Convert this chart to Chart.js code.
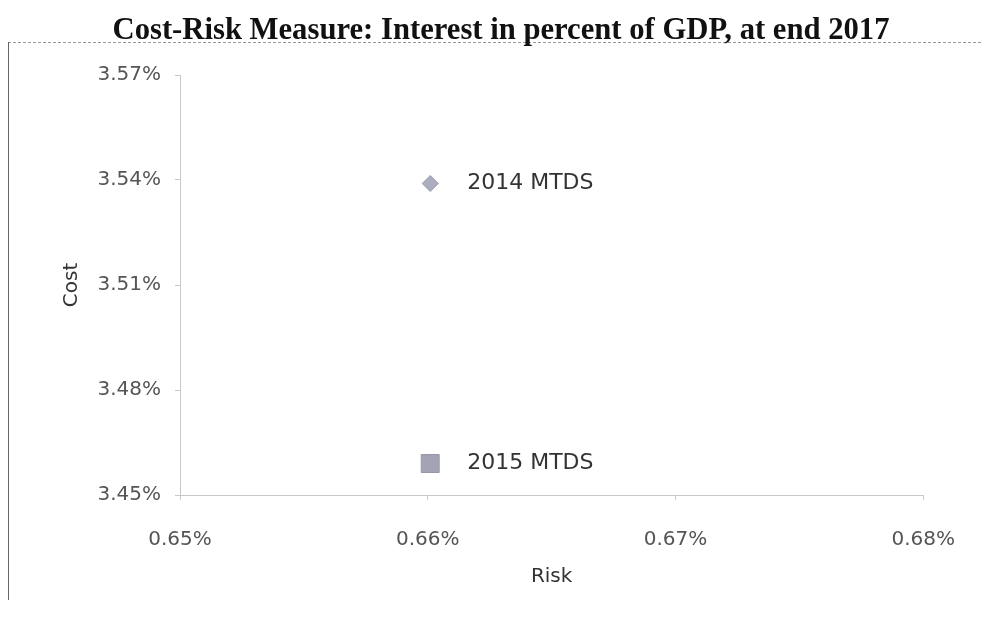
<!DOCTYPE html>
<html>
<head>
<meta charset="utf-8">
<script src="https://cdn.jsdelivr.net/npm/chart.js@4"></script>
<style>
  html, body { margin: 0; padding: 0; background: #fff; }
  #wrap { width: 983px; height: 618px; }
</style>
</head>
<body>
<div id="wrap"><canvas id="costRisk" width="983" height="618"></canvas></div>
<script>
// ── Data ────────────────────────────────────────────────────
const seriesNames = ['2014 MTDS', '2015 MTDS'];
const riskValues  = [0.6601, 0.6601];   // x, percent
const costValues  = [3.539, 3.459];     // y, percent
const xTicks      = [0.65, 0.66, 0.67, 0.68];
const yTicks      = [3.45, 3.48, 3.51, 3.54, 3.57];

const TITLE = 'Cost-Risk Measure: Interest in percent of GDP, at end 2017';

// ── Styling ─────────────────────────────────────────────────
const tickFont  = { family: 'DejaVu Sans', size: 20 };
const labelFont = '22px "DejaVu Sans"';

// frame, title and point labels
const decor = {
  id: 'decor',
  beforeDraw(chart) {
    const ctx = chart.ctx;
    ctx.save();
    // dashed top rule and left border
    ctx.strokeStyle = '#9a9a9a';
    ctx.lineWidth = 1;
    ctx.setLineDash([3, 2]);
    ctx.beginPath();
    ctx.moveTo(8, 42.5);
    ctx.lineTo(983, 42.5);
    ctx.stroke();
    ctx.setLineDash([]);
    ctx.strokeStyle = '#666';
    ctx.beginPath();
    ctx.moveTo(8.5, 42);
    ctx.lineTo(8.5, 600);
    ctx.stroke();

    // title, condensed serif bold
    ctx.fillStyle = '#111';
    ctx.font = 'bold 32px "Liberation Serif"';
    ctx.textBaseline = 'alphabetic';
    const w = ctx.measureText(TITLE).width;
    const target = 777;
    ctx.translate(501, 39);
    ctx.scale(target / w, 1);
    ctx.textAlign = 'center';
    ctx.fillText(TITLE, 0, 0);
    ctx.restore();
  },
  afterDatasetsDraw(chart) {
    const ctx = chart.ctx;
    ctx.save();
    ctx.font = labelFont;
    ctx.fillStyle = '#333';
    ctx.textAlign = 'left';
    ctx.textBaseline = 'middle';
    chart.data.datasets.forEach((ds, i) => {
      const pt = chart.getDatasetMeta(i).data[0];
      ctx.fillText(ds.label, pt.x + 37, pt.y);
    });
    ctx.restore();
  }
};

new Chart(document.getElementById('costRisk'), {
  type: 'scatter',
  data: {
    datasets: [{
      label: seriesNames[0],
      data: [{ x: riskValues[0], y: costValues[0] }],
      pointStyle: 'rectRot',
      pointRadius: 8,
      backgroundColor: '#adadc0',
      borderColor: '#9a9aac',
      borderWidth: 1
    }, {
      label: seriesNames[1],
      data: [{ x: riskValues[1], y: costValues[1] }],
      pointStyle: 'rect',
      pointRadius: 12.7,
      backgroundColor: '#a3a3b5',
      borderColor: '#9797aa',
      borderWidth: 1
    }]
  },
  options: {
    responsive: false,
    animation: false,
    layout: { padding: { top: 75, right: 56, bottom: 25, left: 56 } },
    plugins: {
      legend: { display: false },
      tooltip: { enabled: false },
      title: { display: false }
    },
    scales: {
      x: {
        type: 'linear',
        min: xTicks[0],
        max: xTicks[xTicks.length - 1],
        afterBuildTicks: s => { s.ticks = xTicks.map(v => ({ value: v })); },
        afterFit: s => { s.height = 98; },
        grid: { display: true, drawOnChartArea: false, tickLength: 5, color: '#c8c8c8' },
        border: { display: true, color: '#c8c8c8', dash: [3, 2] },
        ticks: {
          color: '#555',
          font: tickFont,
          padding: 28,
          maxRotation: 0,
          callback: v => v.toFixed(2) + '%'
        },
        title: {
          display: true,
          text: 'Risk',
          color: '#333',
          font: { family: 'DejaVu Sans', size: 20 },
          padding: { top: 10 }
        }
      },
      y: {
        type: 'linear',
        min: yTicks[0],
        max: yTicks[yTicks.length - 1],
        afterBuildTicks: s => { s.ticks = yTicks.map(v => ({ value: v })); },
        afterFit: s => { s.width = 124; },
        grid: { display: true, drawOnChartArea: false, tickLength: 5, color: '#c8c8c8' },
        border: { display: true, color: '#c8c8c8' },
        ticks: {
          color: '#555',
          font: tickFont,
          padding: 14,
          callback: v => v.toFixed(2) + '%'
        },
        title: {
          display: true,
          text: 'Cost',
          color: '#333',
          font: { family: 'DejaVu Sans', size: 20 },
          padding: { bottom: 0 }
        }
      }
    }
  },
  plugins: [decor]
});
</script>
</body>
</html>
